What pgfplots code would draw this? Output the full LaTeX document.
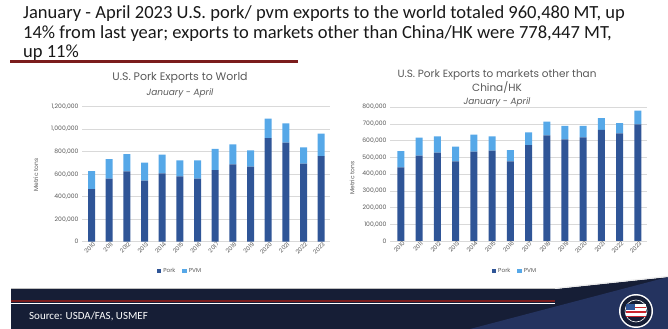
\documentclass[border=0pt]{standalone}
\usepackage{fontspec}
\setmainfont{Carlito}
\newfontfamily\chartfont{Poppins}
\usepackage{pgfplots}
\usepackage{pgfplotstable}
\pgfplotsset{compat=1.18}
\definecolor{pork}{HTML}{2F5597}
\definecolor{pvm}{HTML}{56A8E8}
\definecolor{gtext}{HTML}{595959}
\definecolor{gridc}{HTML}{D9D9D9}
\definecolor{navy}{HTML}{161E36}
\definecolor{navyl}{HTML}{24335F}
\definecolor{darkred}{HTML}{7B1C1C}
\definecolor{flagred}{HTML}{C8262E}

\pgfplotstableread{
x pork pvm
0 468000 160000
1 560000 175000
2 625000 154000
3 542000 160000
4 607000 166000
5 581000 142000
6 560000 163000
7 637000 187000
8 687000 178000
9 667000 145000
10 921000 172000
11 880000 172000
12 693000 146000
13 760000 200480
}\worldtab

\pgfplotstableread{
x pork pvm
0 439000 98000
1 509000 108000
2 527000 98000
3 475000 88000
4 533000 102000
5 539000 86000
6 475000 68000
7 573000 76000
8 631000 82000
9 607000 80000
10 619000 68000
11 663000 70000
12 643000 60000
13 697000 81447
}\otherstab

\pgfplotsset{mychart/.style={
  scale only axis,
  ybar stacked,
  bar width=7bp,
  ymin=0,
  xtick={0,...,13},
  xticklabels={2010,2011,2012,2013,2014,2015,2016,2017,2018,2019,2020,2021,2022,2023},
  ymajorgrids,
  grid style={gridc, line width=0.5bp},
  axis line style={draw=none},
  major tick length=0pt,
  tick style={draw=none},
  scaled y ticks=false,
  /pgf/number format/.cd, fixed, 1000 sep={,}, assume math mode=true,
  /pgfplots/.cd,
  yticklabel style={font=\chartfont\fontsize{6.1}{7}\selectfont, text=gtext},
  xticklabel style={font=\chartfont\fontsize{5.8}{6}\selectfont, text=gtext, rotate=45, anchor=east, inner sep=1bp, xshift=2bp, yshift=-3bp},
  legend columns=2,
  legend style={draw=none, fill=none, font=\chartfont\fontsize{5.8}{7}\selectfont, text=gtext,
    /tikz/every even column/.append style={column sep=5bp}},
  legend image code/.code={\fill[##1] (0bp,-2.2bp) rectangle (4.4bp,2.2bp);},
}}

\begin{document}
\begin{tikzpicture}
\path[use as bounding box] (0,0) rectangle (668bp,329bp);

% headline
\node[anchor=base west, inner sep=0, text=black!90, font=\fontsize{18.6}{20}\selectfont] at (23bp,310bp) {January - April 2023 U.S. pork/ pvm exports to the world totaled 960,480 MT, up};
\node[anchor=base west, inner sep=0, text=black!90, font=\fontsize{18.6}{20}\selectfont] at (23bp,290bp) {14\% from last year; exports to markets other than China/HK were 778,447 MT,};
\node[anchor=base west, inner sep=0, text=black!90, font=\fontsize{18.6}{20}\selectfont] at (23bp,271bp) {up 11\%};
\fill[darkred] (10bp,265.5bp) rectangle (298bp,268.5bp);

% left chart
\begin{axis}[mychart,
  at={(82bp,87.3bp)}, anchor=south west,
  width=248bp, height=135bp,
  xmin=-0.54, xmax=13.5,
  ymax=1200000,
  ytick={0,200000,400000,600000,800000,1000000,1200000},
  legend style={at={(0.395,-0.217)}, anchor=center},
]
\addplot[fill=pork, draw=none] table[x=x, y=pork]{\worldtab};
\addplot[fill=pvm, draw=none] table[x=x, y=pvm]{\worldtab};
\legend{Pork, PVM}
\end{axis}
\node[font=\chartfont\fontsize{11}{13}\selectfont, text=gtext] at (180bp,251bp) {U.S. Pork Exports to World};
\node[font=\chartfont\itshape\fontsize{9}{11}\selectfont, text=gtext] at (180bp,236bp) {January - April};
\node[rotate=90, font=\chartfont\fontsize{6}{7}\selectfont, text=gtext] at (36bp,154bp) {Metric tons};

% right chart
\begin{axis}[mychart,
  at={(390bp,88bp)}, anchor=south west,
  width=257bp, height=134bp,
  xmin=-0.6, xmax=13.5,
  ymax=800000,
  ytick={0,100000,200000,300000,400000,500000,600000,700000,800000},
  legend style={at={(0.486,-0.224)}, anchor=center},
]
\addplot[fill=pork, draw=none] table[x=x, y=pork]{\otherstab};
\addplot[fill=pvm, draw=none] table[x=x, y=pvm]{\otherstab};
\legend{Pork, PVM}
\end{axis}
\node[font=\chartfont\fontsize{10.5}{12}\selectfont, text=gtext] at (497bp,254.5bp) {U.S. Pork Exports to markets other than};
\node[font=\chartfont\fontsize{10.5}{12}\selectfont, text=gtext] at (497bp,241.5bp) {China/HK};
\node[font=\chartfont\itshape\fontsize{9}{11}\selectfont, text=gtext] at (497bp,227bp) {January - April};
\node[rotate=90, font=\chartfont\fontsize{6}{7}\selectfont, text=gtext] at (352bp,151bp) {Metric tons};

% footer banner
\fill[navy] (11bp,0) -- (11bp,40bp) -- (555bp,40bp) -- (668bp,52bp) -- (668bp,0) -- cycle;
\fill[navyl] (470bp,0) -- (668bp,52bp) -- (668bp,0) -- cycle;
\draw[white!85!gray, line width=1.2bp] (555bp,40.6bp) -- (668bp,52.6bp);
\draw[gray!50, line width=0.6bp] (11bp,40.3bp) -- (555bp,40.3bp);
\fill[darkred] (11bp,26.6bp) rectangle (555bp,28.6bp);
\fill[white] (11bp,25.2bp) rectangle (555bp,26.2bp);
\node[anchor=base west, inner sep=0, text=white, font=\fontsize{11}{13}\selectfont] at (29bp,10bp) {Source: USDA/FAS, USMEF};

% logo
\fill[white] (636bp,18bp) circle (17bp);
\fill[navy] (636bp,18bp) circle (15.5bp);
\draw[white, line width=0.6bp] (636bp,18bp) circle (11bp);
\fill[white] (626bp,12bp) rectangle (646bp,25bp);
\foreach \k in {0,2,4} {\fill[flagred] (626bp,{(12+\k*2.2)*1bp}) rectangle (646bp,{(13.1+\k*2.2)*1bp});}
\fill[pork] (626bp,19bp) rectangle (635bp,25bp);
\end{tikzpicture}
\end{document}
